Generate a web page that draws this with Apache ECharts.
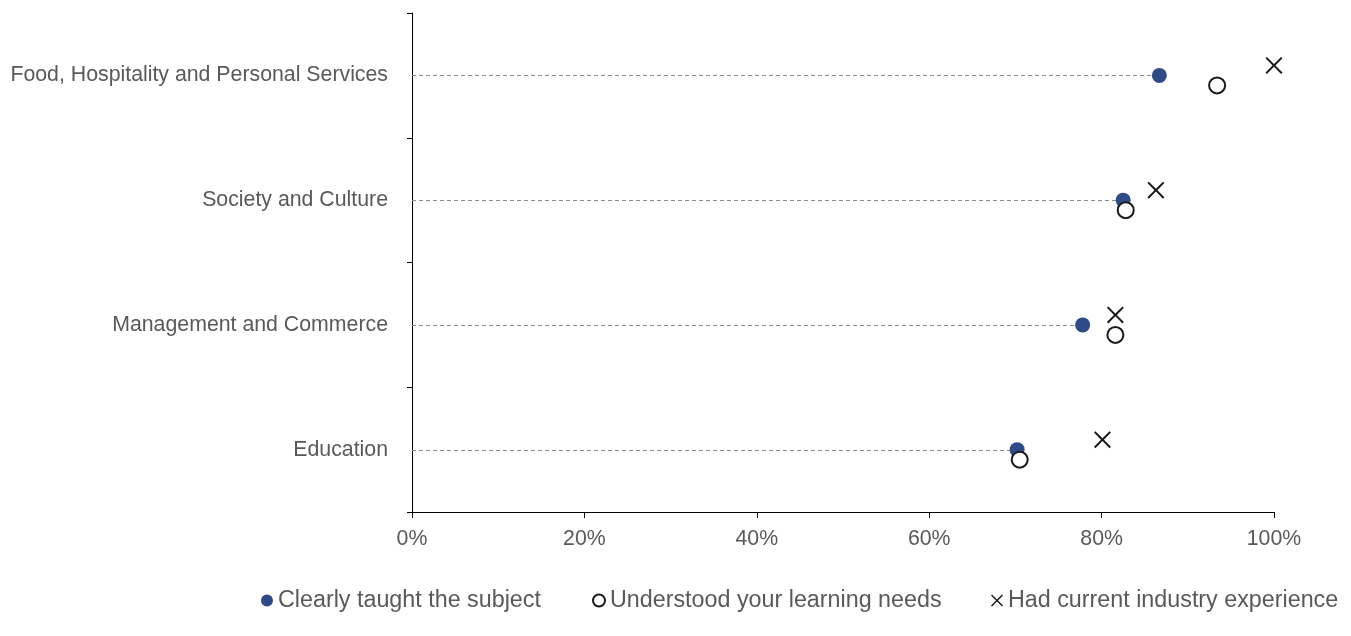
<!DOCTYPE html>
<html>
<head>
<meta charset="utf-8">
<script src="https://cdn.jsdelivr.net/npm/echarts@6/dist/echarts.min.js"></script>
<style>
html,body{margin:0;padding:0;background:#fff;}
#chart{width:1351px;height:636px;}
</style>
</head>
<body>
<div id="chart"></div>
<script>
const categories = ['Food, Hospitality and Personal Services', 'Society and Culture', 'Management and Commerce', 'Education'];
const clearlyTaught = [0.867, 0.825, 0.778, 0.702];
const understoodNeeds = [0.934, 0.828, 0.816, 0.705];
const industryExperience = [1.0, 0.863, 0.816, 0.801];
const seriesNames = ['Clearly taught the subject', 'Understood your learning needs', 'Had current industry experience'];

const textColor = '#595959';
const fontFamily = '"Liberation Sans", Arial, sans-serif';
const xPath = 'path://M0,1.7L1.7,0L10,8.3L18.3,0L20,1.7L11.7,10L20,18.3L18.3,20L10,11.7L1.7,20L0,18.3L8.3,10Z';

const chart = echarts.init(document.getElementById('chart'), null, {renderer: 'canvas'});
const legendBase = {
  orient: 'horizontal', top: 584, itemWidth: 12, itemHeight: 12, itemGap: 0,
  textStyle: {color: textColor, fontSize: 23.3, fontFamily: fontFamily},
  selectedMode: false
};
chart.setOption({
  animation: false,
  backgroundColor: '#fff',
  textStyle: {fontFamily: fontFamily},
  grid: {left: 412, right: 77, top: 13, bottom: 124, containLabel: false},
  legend: [
    Object.assign({}, legendBase, {left: 256, data: [seriesNames[0]]}),
    Object.assign({}, legendBase, {left: 587, data: [seriesNames[1]]}),
    Object.assign({}, legendBase, {left: 986, data: [seriesNames[2]]})
  ],
  xAxis: {
    type: 'value', min: 0, max: 1, interval: 0.2,
    axisLine: {show: true, lineStyle: {color: '#000', width: 1}},
    axisTick: {show: true, length: 6, lineStyle: {color: '#000'}},
    splitLine: {show: false},
    axisLabel: {
      color: textColor, fontSize: 21.3, margin: 17, fontFamily: fontFamily,
      formatter: v => Math.round(v * 100) + '%'
    }
  },
  yAxis: {
    type: 'category', data: categories, inverse: true,
    axisLine: {show: true, lineStyle: {color: '#000', width: 1}},
    axisTick: {show: true, length: 5, lineStyle: {color: '#000'}},
    splitLine: {show: false},
    axisLabel: {color: textColor, fontSize: 21.3, margin: 24, fontFamily: fontFamily, padding: [3, 0, 0, 0]}
  },
  series: [
    {
      type: 'custom', silent: true, z: 1,
      data: clearlyTaught.map((v, i) => [v, i]),
      renderItem: function (params, api) {
        const p0 = api.coord([0, api.value(1)]);
        const p1 = api.coord([api.value(0), api.value(1)]);
        return {
          type: 'line',
          shape: {x1: p0[0], y1: Math.round(p0[1]) + 0.5, x2: p1[0], y2: Math.round(p1[1]) + 0.5},
          style: {stroke: '#8c8c8c', lineWidth: 1, lineDash: [4, 3]}
        };
      }
    },
    {
      name: seriesNames[0], type: 'scatter', z: 2,
      symbol: 'circle', symbolSize: 15,
      itemStyle: {color: '#2F4B87', opacity: 1},
      data: clearlyTaught.map((v, i) => [v, i])
    },
    {
      name: seriesNames[1], type: 'scatter', z: 3,
      symbol: 'emptyCircle', symbolSize: 16, symbolOffset: [0, 10],
      itemStyle: {color: '#1a1a1a', borderWidth: 2, opacity: 1},
      data: understoodNeeds.map((v, i) => [v, i])
    },
    {
      name: seriesNames[2], type: 'scatter', z: 4,
      symbol: xPath, symbolSize: 17, symbolOffset: [0, -10],
      itemStyle: {color: '#1a1a1a', opacity: 1},
      data: industryExperience.map((v, i) => [v, i])
    }
  ]
});
</script>
</body>
</html>
